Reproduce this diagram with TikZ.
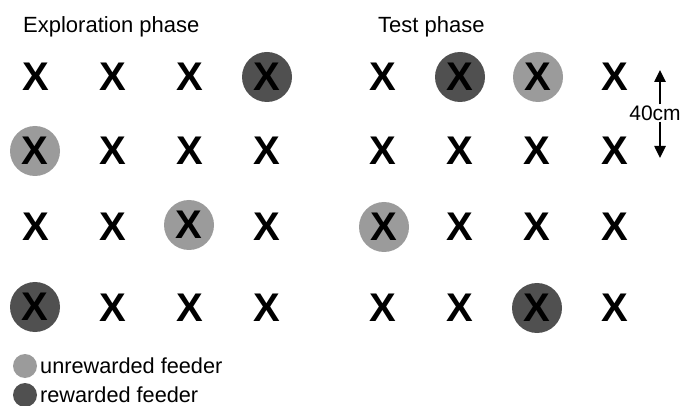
\documentclass[tikz,border=0pt]{standalone}
\usepackage{fontspec}
\setmainfont{Liberation Sans}
\usetikzlibrary{arrows.meta}
\definecolor{darkfeed}{RGB}{80,80,80}
\definecolor{lightfeed}{RGB}{155,155,155}
\tikzset{
  feeder/.style={inner sep=0pt, font=\fontsize{40}{40}\selectfont\bfseries},
  rewarded/.style={feeder, circle, fill=darkfeed, minimum size=50pt},
  unrewarded/.style={feeder, circle, fill=lightfeed, minimum size=50pt},
  title/.style={inner sep=0pt, anchor=base west, font=\fontsize{22}{22}\selectfont},
  legtext/.style={inner sep=0pt, anchor=west, font=\fontsize{21.7}{21.7}\selectfont},
  legdark/.style={circle, fill=darkfeed, minimum size=24pt, inner sep=0pt},
  leglight/.style={circle, fill=lightfeed, minimum size=24pt, inner sep=0pt},
  scalearrow/.style={line width=2.5pt, -{Triangle[length=12pt,width=11pt]}}
}
\begin{document}
\begin{tikzpicture}[x=1pt,y=-1pt]
\useasboundingbox (0,0) rectangle (683,406);
% titles
\node[title] (t1) at (23,33) {Exploration phase};
\node[title] (t2) at (378,33) {Test phase};
% exploration grid
\node[feeder] (l11) at (36,77) {X};
\node[feeder] (l12) at (113,77) {X};
\node[feeder] (l13) at (190,77) {X};
\node[rewarded] (l14) at (267,77) {X};
\node[unrewarded] (l21) at (35,151) {X};
\node[feeder] (l22) at (113,151) {X};
\node[feeder] (l23) at (190,151) {X};
\node[feeder] (l24) at (267,151) {X};
\node[feeder] (l31) at (36,227) {X};
\node[feeder] (l32) at (113,227) {X};
\node[unrewarded] (l33) at (189,225) {X};
\node[feeder] (l34) at (267,227) {X};
\node[rewarded] (l41) at (35,307) {X};
\node[feeder] (l42) at (113,308) {X};
\node[feeder] (l43) at (190,308) {X};
\node[feeder] (l44) at (267,308) {X};
% test grid
\node[feeder] (r11) at (383,77) {X};
\node[rewarded] (r12) at (460,77) {X};
\node[unrewarded] (r13) at (538,77) {X};
\node[feeder] (r14) at (615,77) {X};
\node[feeder] (r21) at (383,151) {X};
\node[feeder] (r22) at (460,151) {X};
\node[feeder] (r23) at (537,151) {X};
\node[feeder] (r24) at (615,151) {X};
\node[unrewarded] (r31) at (384,227) {X};
\node[feeder] (r32) at (460,227) {X};
\node[feeder] (r33) at (537,227) {X};
\node[feeder] (r34) at (615,227) {X};
\node[feeder] (r41) at (383,308) {X};
\node[feeder] (r42) at (460,308) {X};
\node[rewarded] (r43) at (537,308) {X};
\node[feeder] (r44) at (615,308) {X};
% scale
\node[inner sep=1pt, font=\fontsize{21}{21}\selectfont] (sc) at (655,113) {40cm};
\coordinate (sctop) at (660,70);
\coordinate (scbot) at (660,158);
\draw[scalearrow] (sc.north -| sctop) -- (sctop);
\draw[scalearrow] (sc.south -| scbot) -- (scbot);
% legend
\node[leglight] (lg1) at (25,366) {};
\node[legtext] (lt1) at (40,366) {unrewarded feeder};
\node[legdark] (lg2) at (25,395) {};
\node[legtext] (lt2) at (40,395) {rewarded feeder};
\end{tikzpicture}
\end{document}
